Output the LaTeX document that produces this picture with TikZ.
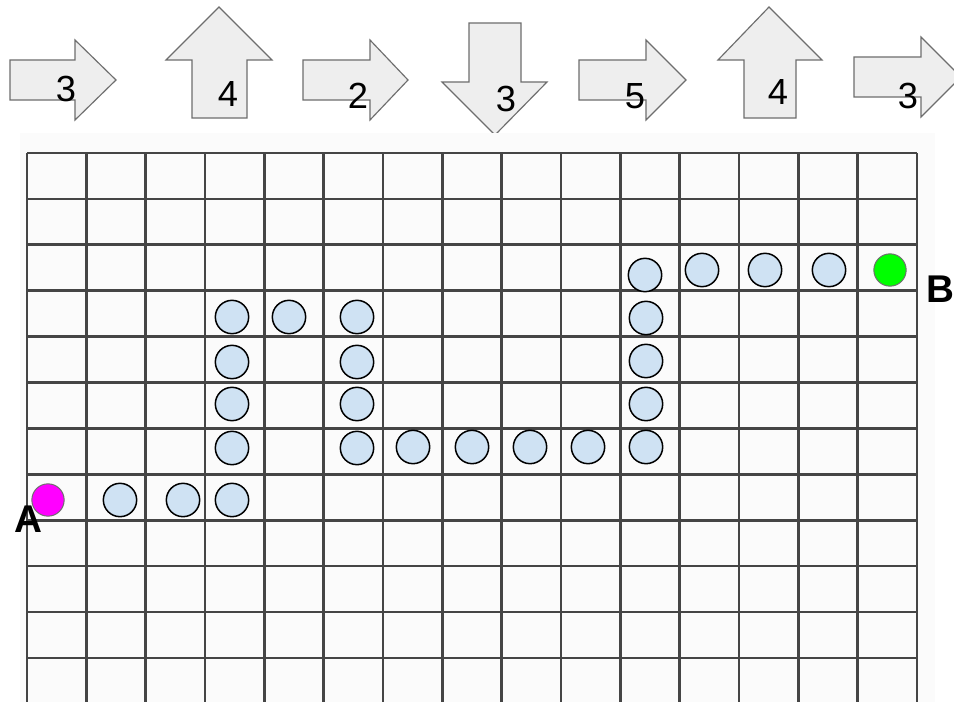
\documentclass[tikz,border=0pt]{standalone}
\usepackage{fontspec}
\setmainfont{Liberation Sans}
\definecolor{gridline}{HTML}{454545}
\definecolor{paper}{HTML}{FBFBFB}
\definecolor{arrowfill}{HTML}{EEEEEE}
\definecolor{arrowline}{HTML}{6E6E6E}
\definecolor{pathblue}{HTML}{CFE2F3}
\definecolor{startpink}{HTML}{FF00FF}
\definecolor{goalgreen}{HTML}{00FF00}
\tikzset{
  movearrow/.style={fill=arrowfill, draw=arrowline, line width=0.035cm, line join=miter},
  movecount/.style={inner sep=0pt, font=\fontsize{31}{31}\selectfont},
  gridstroke/.style={draw=gridline, line width=0.08cm},
  pathdot/.style={circle, fill=pathblue, draw=black, line width=0.045cm, minimum size=1.0cm, inner sep=0pt},
  enddot/.style={circle, draw=arrowline, line width=0.03cm, minimum size=0.97cm, inner sep=0pt},
  endlabel/.style={inner sep=0pt, font=\fontsize{33}{33}\selectfont\bfseries},
}

\begin{document}
\begin{tikzpicture}[x=0.03cm, y=-0.03cm]
\useasboundingbox (0,0) rectangle (954,702);
\clip (0,0) rectangle (954,702);
\fill[white] (0,0) rectangle (954,702);

% moves along the top
\draw[movearrow] (10,60) -- (75,60) -- (75,40) -- (116,80) -- (75,120) -- (75,100) -- (10,100) -- cycle;
\node[movecount] (m1) at (66,89) {3};
\draw[movearrow] (219,7) -- (272,60) -- (247,60) -- (247,118) -- (192,118) -- (192,60) -- (166,60) -- cycle;
\node[movecount] (m2) at (228,94) {4};
\draw[movearrow] (303,60) -- (370,60) -- (370,40) -- (408,80) -- (370,120) -- (370,100) -- (303,100) -- cycle;
\node[movecount] (m3) at (358,96) {2};
\draw[movearrow] (469,23) -- (521,23) -- (521,82) -- (547,82) -- (495,135) -- (442,82) -- (469,82) -- cycle;
\node[movecount] (m4) at (506,99) {3};
\draw[movearrow] (579,60) -- (646,60) -- (646,40) -- (686,80) -- (646,120) -- (646,100) -- (579,100) -- cycle;
\node[movecount] (m5) at (635,96) {5};
\draw[movearrow] (769,7) -- (822,60) -- (796,60) -- (796,118) -- (744,118) -- (744,60) -- (718,60) -- cycle;
\node[movecount] (m6) at (778,92) {4};
\draw[movearrow] (854,57) -- (921,57) -- (921,37) -- (961,77) -- (921,117) -- (921,97) -- (854,97) -- cycle;
\node[movecount] (m7) at (908,96) {3};

% board
\fill[paper] (20,133) rectangle (935,702);
\foreach \r in {0,...,12}
  \draw[gridstroke] (27,153+45.9*\r) -- (917,153+45.9*\r);
\foreach \c in {0,...,15}
  \draw[gridstroke] (27+59.33*\c,153) -- (27+59.33*\c,710);

% path cells
\foreach \x/\y [count=\i] in {120/500, 183/500, 232/500, 232/448, 232/404, 232/362, 232/317,
    289/317, 357/317, 357/362, 357/404, 357/448, 413/447, 472/447, 530/447, 588/447,
    646/447, 646/404, 646/361, 646/318, 645/275, 702/270, 765/270, 829/270}
  \node[pathdot] (p\i) at (\x,\y) {};

\node[enddot, fill=startpink] (start) at (48,500) {};
\node[enddot, fill=goalgreen] (goal) at (890,270) {};
\node[endlabel] (labelA) at (28,519) {A};
\node[endlabel] (labelB) at (940,289) {B};
\end{tikzpicture}
\end{document}
